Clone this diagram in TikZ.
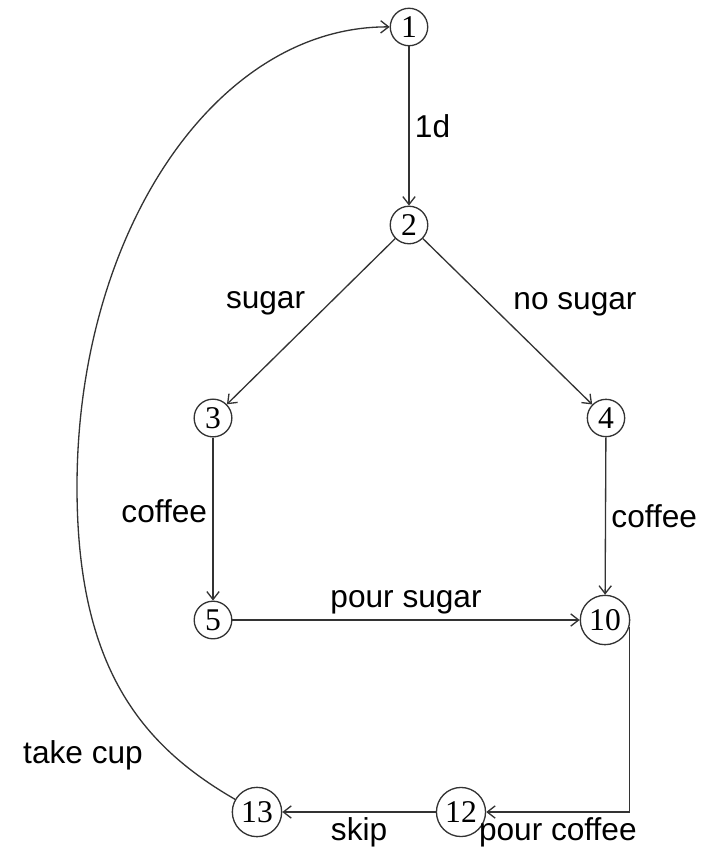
\documentclass[tikz,border=0pt]{standalone}
\usepackage{fontspec}
\setmainfont{Liberation Serif}
\setsansfont{Liberation Sans}
\usepackage{tikz}
\usetikzlibrary{arrows.meta}
\definecolor{LineGray}{HTML}{333333}

\begin{document}
\begin{tikzpicture}[
  x=0.02cm, y=-0.02cm,
  st/.style={circle, draw=LineGray, line width=0.75pt, inner sep=2.3pt,
             font=\fontsize{18}{20}\selectfont, text=black},
  lbl/.style={font=\sffamily\fontsize{18}{21}\selectfont, inner sep=3pt, text=black},
  edge/.style={-{Straight Barb[length=4.5pt,width=7pt]}, line width=0.75pt, LineGray},
]
  \useasboundingbox (0,0) rectangle (708,852);

  % States
  \node[st] (n1)  at (409, 27)  {1};
  \node[st] (n2)  at (409,225)  {2};
  \node[st] (n3)  at (213,418)  {3};
  \node[st] (n4)  at (606,418)  {4};
  \node[st] (n5)  at (213,620)  {5};
  \node[st] (n10) at (605,620)  {10};
  \node[st] (n12) at (461,812)  {12};
  \node[st] (n13) at (257,812)  {13};

  % Helper coordinate on the return loop
  \coordinate (loopL) at (77,487);

  % Transitions
  \draw[edge] (n1) -- node[lbl, right] {1d} (n2);
  \draw[edge] (n2) -- node[lbl, above left] {sugar} (n3);
  \draw[edge] (n2) -- node[lbl, above right] {no sugar} (n4);
  \draw[edge] (n3) -- node[lbl, left, pos=0.45] {coffee} (n5);
  \draw[edge] (n4) -- node[lbl, right] {coffee} (n10);
  \draw[edge] (n5) -- node[lbl, above] {pour sugar} (n10);
  \draw[edge] (n10.-15) |- node[lbl, below, pos=0.75] {pour coffee} (n12);
  \draw[edge] (n12) -- node[lbl, below] {skip} (n13);
  \draw[edge] (n13) .. controls (141,745) and (77,667) .. (loopL)
                    .. controls (77,232) and (216,26) .. (n1);

  % Loop label
  \node[lbl] (ltake) at (83,755) {take cup};

\end{tikzpicture}
\end{document}
